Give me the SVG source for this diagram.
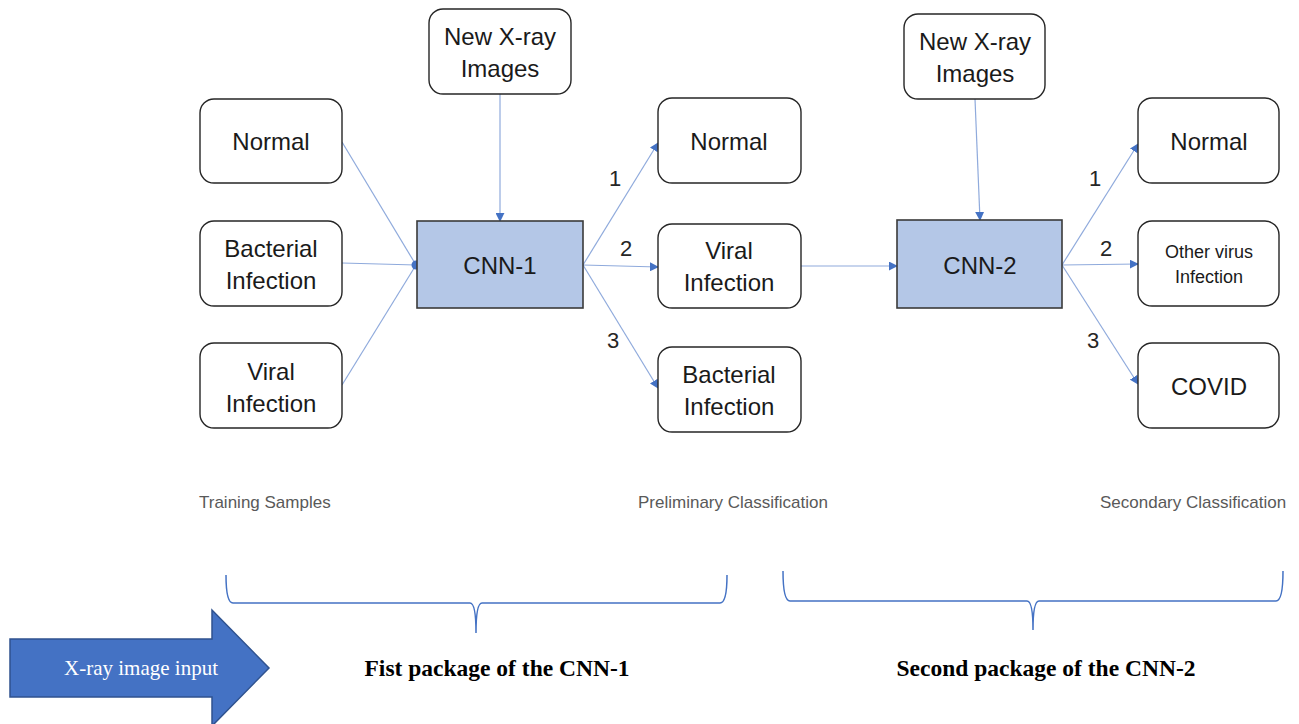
<svg xmlns="http://www.w3.org/2000/svg" width="1299" height="724" viewBox="0 0 1299 724">
<style>
.box{fill:#fff;stroke:#262626;stroke-width:1.4}
.cnn{fill:#B4C7E7;stroke:#3a3a3a;stroke-width:1.6}
.t{font-family:"Liberation Sans","Noto Sans",sans-serif;font-size:24px;fill:#1a1a1a;text-anchor:middle}
.ts{font-family:"Liberation Sans","Noto Sans",sans-serif;font-size:18px;fill:#1a1a1a;text-anchor:middle}
.num{font-family:"Liberation Sans","Noto Sans",sans-serif;font-size:22px;fill:#262626;text-anchor:middle}
.cap{font-family:"Liberation Sans","Noto Sans",sans-serif;font-size:17px;fill:#595959}
.pkg{font-family:"Liberation Serif","Times New Roman",serif;font-size:23.5px;font-weight:bold;fill:#000;text-anchor:middle}
.con{fill:none;stroke:#8FAADC;stroke-width:1.2}
.arr{marker-end:url(#ah)}
.brace{fill:none;stroke:#4472C4;stroke-width:1.5}
</style>
<defs>
<marker id="ah" viewBox="0 0 10 10" refX="9" refY="5" markerWidth="9" markerHeight="9" markerUnits="userSpaceOnUse" orient="auto">
<path d="M0,0 L10,5 L0,10 Z" fill="#4472C4"/>
</marker>
</defs>
<rect width="1299" height="724" fill="#fff"/>

<g id="connectors">
<line class="con" x1="342" y1="142" x2="416" y2="265"/>
<line class="con" x1="342" y1="263" x2="416" y2="265"/>
<line class="con" x1="342" y1="385" x2="416" y2="265"/>
<circle cx="416" cy="265" r="4.5" fill="#4472C4"/>
<line class="con arr" x1="500" y1="94" x2="500" y2="221"/>
<line class="con arr" x1="583" y1="265" x2="658" y2="143"/>
<line class="con arr" x1="583" y1="265" x2="658" y2="267"/>
<line class="con arr" x1="583" y1="265" x2="658" y2="388"/>
<line class="con arr" x1="801" y1="266" x2="897" y2="266"/>
<line class="con arr" x1="975" y1="99" x2="980" y2="220"/>
<line class="con arr" x1="1062" y1="265" x2="1138" y2="144"/>
<line class="con arr" x1="1062" y1="265" x2="1138" y2="264"/>
<line class="con arr" x1="1062" y1="265" x2="1138" y2="384"/>
</g>

<g id="train-normal"><rect class="box" x="200" y="99" width="142" height="84" rx="14"/><text class="t" x="271" y="150">Normal</text></g>
<g id="train-bacterial"><rect class="box" x="200" y="221" width="142" height="85" rx="14"/><text class="t" x="271" y="257">Bacterial</text><text class="t" x="271" y="289">Infection</text></g>
<g id="train-viral"><rect class="box" x="200" y="343" width="142" height="85" rx="14"/><text class="t" x="271" y="380">Viral</text><text class="t" x="271" y="412">Infection</text></g>

<g id="newxray-1"><rect class="box" x="429" y="9" width="142" height="85" rx="14"/><text class="t" x="500" y="45">New X-ray</text><text class="t" x="500" y="77">Images</text></g>
<g id="cnn-1"><rect class="cnn" x="417" y="221" width="166" height="87"/><text class="t" x="500" y="274">CNN-1</text></g>

<g id="pre-normal"><rect class="box" x="658" y="98" width="143" height="85" rx="14"/><text class="t" x="729" y="150">Normal</text></g>
<g id="pre-viral"><rect class="box" x="658" y="224" width="143" height="84" rx="14"/><text class="t" x="729" y="259">Viral</text><text class="t" x="729" y="291">Infection</text></g>
<g id="pre-bacterial"><rect class="box" x="658" y="347" width="143" height="85" rx="14"/><text class="t" x="729" y="383">Bacterial</text><text class="t" x="729" y="415">Infection</text></g>

<g id="newxray-2"><rect class="box" x="904" y="14" width="141" height="85" rx="14"/><text class="t" x="975" y="50">New X-ray</text><text class="t" x="975" y="82">Images</text></g>
<g id="cnn-2"><rect class="cnn" x="897" y="220" width="165" height="88"/><text class="t" x="980" y="274">CNN-2</text></g>

<g id="sec-normal"><rect class="box" x="1138" y="98" width="141" height="85" rx="14"/><text class="t" x="1209" y="150">Normal</text></g>
<g id="sec-other"><rect class="box" x="1138" y="221" width="141" height="85" rx="14"/><text class="ts" x="1209" y="258">Other virus</text><text class="ts" x="1209" y="283">Infection</text></g>
<g id="sec-covid"><rect class="box" x="1138" y="343" width="141" height="85" rx="14"/><text class="t" x="1209" y="395">COVID</text></g>

<g id="numbers">
<text class="num" x="615" y="186">1</text>
<text class="num" x="626" y="256">2</text>
<text class="num" x="613" y="348">3</text>
<text class="num" x="1095" y="186">1</text>
<text class="num" x="1106" y="256">2</text>
<text class="num" x="1093" y="348">3</text>
</g>

<g id="captions">
<text class="cap" x="199" y="508">Training Samples</text>
<text class="cap" x="638" y="508">Preliminary Classification</text>
<text class="cap" x="1100" y="508">Secondary Classification</text>
</g>

<g id="braces">
<path class="brace" d="M226,575 Q226,603 233,603 L470,603 Q476,603 476,633 Q476,603 482,603 L720,603 Q727,603 727,575"/>
<path class="brace" d="M783,571 Q783,601 790,601 L1027,601 Q1033,601 1033,630 Q1033,601 1039,601 L1276,601 Q1283,601 1283,571"/>
</g>

<g id="input-arrow">
<path d="M10,639 L212,639 L212,610 L269,668 L212,726 L212,697 L10,697 Z" fill="#4472C4" stroke="#2F528F" stroke-width="1.5"/>
<text x="141" y="675" font-family="Liberation Serif,'Times New Roman',serif" font-size="21px" fill="#fff" text-anchor="middle">X-ray image input</text>
</g>

<g id="packages">
<text class="pkg" x="497" y="676">Fist package of the CNN-1</text>
<text class="pkg" x="1046" y="676">Second package of the CNN-2</text>
</g>
</svg>
